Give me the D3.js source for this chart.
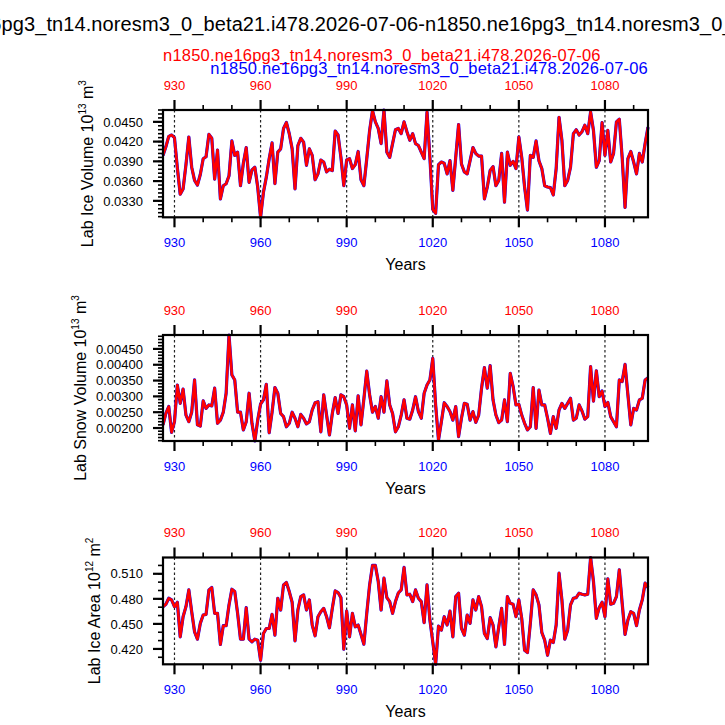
<!DOCTYPE html>
<meta charset="utf-8">
<script src="https://cdn.jsdelivr.net/npm/d3@7"></script>
<style>
  body { margin: 0; background: #fff; }
  text { font-family: "Liberation Sans", Arial, Helvetica, sans-serif; }
</style>
<body>
<script>

var width = 725
var height = 725

// annual means, model years 926..1095
var years = d3.range(926, 1096)

var iceVolume = [
  0.0399, 0.0412, 0.0428, 0.0430, 0.0426, 0.0380, 0.0340, 0.0348, 0.0385, 0.0427,
  0.0381, 0.0361, 0.0354, 0.0370, 0.0394, 0.0397, 0.0431, 0.0425, 0.0363, 0.0407,
  0.0333, 0.0353, 0.0356, 0.0368, 0.0421, 0.0399, 0.0404, 0.0353, 0.0387, 0.0411,
  0.0358, 0.0377, 0.0381, 0.0351, 0.0305, 0.0343, 0.0366, 0.0394, 0.0418, 0.0356,
  0.0404, 0.0409, 0.0440, 0.0449, 0.0432, 0.0409, 0.0348, 0.0414, 0.0425, 0.0419,
  0.0384, 0.0409, 0.0399, 0.0362, 0.0371, 0.0392, 0.0389, 0.0374, 0.0378, 0.0376,
  0.0436, 0.0430, 0.0396, 0.0353, 0.0392, 0.0394, 0.0379, 0.0385, 0.0405, 0.0362,
  0.0353, 0.0394, 0.0437, 0.0467, 0.0450, 0.0440, 0.0417, 0.0468, 0.0404, 0.0396,
  0.0417, 0.0438, 0.0440, 0.0432, 0.0450, 0.0435, 0.0422, 0.0432, 0.0417, 0.0414,
  0.0404, 0.0394, 0.0465, 0.0396, 0.0317, 0.0311, 0.0385, 0.0389, 0.0387, 0.0371,
  0.0391, 0.0346, 0.0396, 0.0446, 0.0386, 0.0374, 0.0371, 0.0391, 0.0411, 0.0402,
  0.0398, 0.0398, 0.0333, 0.0351, 0.0376, 0.0382, 0.0353, 0.0361, 0.0402, 0.0328,
  0.0404, 0.0384, 0.0390, 0.0379, 0.0427, 0.0396, 0.0351, 0.0316, 0.0399, 0.0396,
  0.0421, 0.0391, 0.0379, 0.0353, 0.0351, 0.0350, 0.0339, 0.0379, 0.0457, 0.0422,
  0.0353, 0.0361, 0.0381, 0.0432, 0.0438, 0.0430, 0.0435, 0.0445, 0.0432, 0.0465,
  0.0437, 0.0381, 0.0391, 0.0449, 0.0399, 0.0437, 0.0389, 0.0402, 0.0450, 0.0454,
  0.0396, 0.0320, 0.0394, 0.0405, 0.0389, 0.0371, 0.0402, 0.0389, 0.0417, 0.0442
]

var snowVolume = [
  0.00210, 0.00246, 0.00268, 0.00186, 0.00220, 0.00336, 0.00278, 0.00323, 0.00241, 0.00220,
  0.00250, 0.00352, 0.00210, 0.00206, 0.00286, 0.00262, 0.00273, 0.00270, 0.00326, 0.00215,
  0.00225, 0.00250, 0.00310, 0.00494, 0.00368, 0.00352, 0.00250, 0.00250, 0.00194, 0.00220,
  0.00310, 0.00215, 0.00159, 0.00225, 0.00276, 0.00289, 0.00338, 0.00185, 0.00250, 0.00328,
  0.00310, 0.00246, 0.00236, 0.00204, 0.00215, 0.00250, 0.00231, 0.00204, 0.00243, 0.00231,
  0.00213, 0.00220, 0.00257, 0.00280, 0.00283, 0.00188, 0.00305, 0.00241, 0.00178, 0.00246,
  0.00296, 0.00246, 0.00305, 0.00299, 0.00273, 0.00199, 0.00273, 0.00191, 0.00302, 0.00210,
  0.00292, 0.00380, 0.00305, 0.00250, 0.00268, 0.00231, 0.00299, 0.00250, 0.00349, 0.00273,
  0.00246, 0.00188, 0.00204, 0.00241, 0.00289, 0.00231, 0.00228, 0.00257, 0.00299, 0.00252,
  0.00231, 0.00310, 0.00336, 0.00352, 0.00420, 0.00273, 0.00162, 0.00220, 0.00280, 0.00268,
  0.00252, 0.00225, 0.00268, 0.00173, 0.00231, 0.00278, 0.00275, 0.00225, 0.00252, 0.00218,
  0.00241, 0.00326, 0.00391, 0.00326, 0.00397, 0.00289, 0.00241, 0.00217, 0.00225, 0.00289,
  0.00220, 0.00373, 0.00331, 0.00273, 0.00275, 0.00241, 0.00215, 0.00194, 0.00204, 0.00328,
  0.00199, 0.00320, 0.00273, 0.00273, 0.00231, 0.00183, 0.00236, 0.00199, 0.00257, 0.00278,
  0.00262, 0.00278, 0.00294, 0.00225, 0.00231, 0.00273, 0.00254, 0.00228, 0.00236, 0.00394,
  0.00285, 0.00381, 0.00299, 0.00317, 0.00268, 0.00281, 0.00236, 0.00220, 0.00204, 0.00352,
  0.00347, 0.00401, 0.00305, 0.00210, 0.00262, 0.00257, 0.00289, 0.00294, 0.00352, 0.00359
]

var iceArea = [
  0.4706, 0.4735, 0.4807, 0.4787, 0.4706, 0.4759, 0.4345, 0.4586, 0.4706, 0.4907,
  0.4646, 0.4405, 0.4317, 0.4506, 0.4606, 0.4614, 0.4907, 0.4935, 0.4626, 0.4626,
  0.4253, 0.4478, 0.4478, 0.4727, 0.4915, 0.4887, 0.4626, 0.4317, 0.4317, 0.4694,
  0.4317, 0.4285, 0.4317, 0.4305, 0.4064, 0.4385, 0.4445, 0.4445, 0.4614, 0.4365,
  0.4807, 0.4666, 0.4967, 0.4996, 0.4887, 0.4759, 0.4297, 0.4666, 0.4827, 0.4847,
  0.4666, 0.4787, 0.4486, 0.4357, 0.4586, 0.4646, 0.4686, 0.4586, 0.4453, 0.4686,
  0.4895, 0.4875, 0.4815, 0.4196, 0.4654, 0.4345, 0.4626, 0.4465, 0.4486, 0.4373,
  0.4257, 0.4626, 0.4967, 0.5200, 0.5200, 0.5008, 0.4666, 0.5048, 0.4815, 0.4767,
  0.4626, 0.4767, 0.4870, 0.4907, 0.5176, 0.4847, 0.4855, 0.4767, 0.4907, 0.4807,
  0.4767, 0.4514, 0.4967, 0.4546, 0.4285, 0.4016, 0.4473, 0.4425, 0.4586, 0.4486,
  0.4654, 0.4345, 0.4827, 0.4867, 0.4445, 0.4365, 0.4606, 0.4506, 0.4787, 0.4666,
  0.4827, 0.4706, 0.4385, 0.4325, 0.4574, 0.4486, 0.4225, 0.4465, 0.4686, 0.4253,
  0.4827, 0.4747, 0.4735, 0.4586, 0.4787, 0.4566, 0.4184, 0.4156, 0.4506, 0.4907,
  0.4847, 0.4727, 0.4397, 0.4305, 0.4124, 0.4305, 0.4277, 0.4486, 0.5108, 0.4787,
  0.4317, 0.4425, 0.4727, 0.4807, 0.4815, 0.4867, 0.4855, 0.4847, 0.4855, 0.5295,
  0.5008, 0.4566, 0.4694, 0.4759, 0.4586, 0.5040, 0.4735, 0.4747, 0.4827, 0.5148,
  0.4747, 0.4373, 0.4546, 0.4646, 0.4626, 0.4478, 0.4666, 0.4787, 0.4988, 0.4935
]

// both cases give the same numbers, the red one is drawn over the blue one
var caseName = "n1850.ne16pg3_tn14.noresm3_0_beta21.i478.2026-07-06"
var title = caseName + "-" + caseName

var xMajor = [930, 960, 990, 1020, 1050, 1080]
var xMinor = d3.range(930, 1096, 10)

var volTicks = [0.0330, 0.0360, 0.0390, 0.0420, 0.0450]
var volLabels = ["0.0330", "0.0360", "0.0390", "0.0420", "0.0450"]
var snowTicks = [0.0020, 0.0025, 0.0030, 0.0035, 0.0040, 0.0045]
var snowLabels = ["0.00200", "0.00250", "0.00300", "0.00350", "0.00400", "0.00450"]
var areaTicks = [0.420, 0.450, 0.480, 0.510]
var areaLabels = ["0.420", "0.450", "0.480", "0.510"]

var left = 163, right = 648

var svg = d3.select("body").append("svg")
            .attr("width", width)
            .attr("height", height)

var x = d3.scaleLinear().domain(d3.extent(years)).range([left, right])

// title, clipped by the page on both sides like the original
var ttl = svg.append("text")
             .attr("y", 31)
             .style("font-size", "20px")
             .style("letter-spacing", "0.1px")
             .text(title)
var pre = ttl.node().getSubStringLength(0, 10)
ttl.attr("x", 1.5 - pre)

svg.append("text")
   .attr("x", left).attr("y", 60.5)
   .style("font-size", "16.5px").style("letter-spacing", "0.2px").style("fill", "red")
   .text(caseName)
svg.append("text")
   .attr("x", right).attr("y", 73.5)
   .style("font-size", "16.5px").style("letter-spacing", "0.2px").style("fill", "blue")
   .style("text-anchor", "end")
   .text(caseName)

function panel(top, bottom, values, ticks, labels, minorStep, name, pow, unitPow) {
  var y = d3.scaleLinear().domain(d3.extent(values)).range([bottom, top])
  var g = svg.append("g")

  // dashed verticals at the major years
  g.selectAll(".grid").data(xMajor).enter().append("line")
   .attr("x1", d => x(d)).attr("x2", d => x(d))
   .attr("y1", top).attr("y2", bottom)
   .style("stroke", "#222").style("stroke-width", 1.2)
   .style("stroke-dasharray", "2.5,2.5")

  var line = d3.line().x((d, i) => x(years[i])).y(d => y(d))
  g.append("path").datum(values).attr("d", line)
   .style("fill", "none").style("stroke", "blue").style("stroke-width", 3.2)
   .style("stroke-linejoin", "round")
  g.append("path").datum(values).attr("d", line)
   .style("fill", "none").style("stroke", "red").style("stroke-width", 2.6)
   .style("stroke-linejoin", "round")

  // x ticks, outward, top and bottom
  xMinor.forEach(function(d) {
    var big = xMajor.indexOf(d) >= 0
    var len = big ? 10 : 5
    g.append("line").attr("x1", x(d)).attr("x2", x(d))
     .attr("y1", top).attr("y2", top - len)
     .style("stroke", "#000").style("stroke-width", big ? 2.2 : 1.6)
    g.append("line").attr("x1", x(d)).attr("x2", x(d))
     .attr("y1", bottom).attr("y2", bottom + len)
     .style("stroke", "#000").style("stroke-width", big ? 2.2 : 1.6)
  })
  xMajor.forEach(function(d) {
    g.append("text").attr("x", x(d)).attr("y", top - 20.5)
     .style("font-size", "13px").style("fill", "red").style("text-anchor", "middle")
     .text(d)
    g.append("text").attr("x", x(d)).attr("y", bottom + 30)
     .style("font-size", "13px").style("fill", "blue").style("text-anchor", "middle")
     .text(d)
  })

  // y ticks
  var dom = y.domain()
  var minors = d3.range(Math.ceil(dom[0] / minorStep - 1e-6), Math.floor(dom[1] / minorStep + 1e-6) + 1)
                 .map(k => k * minorStep)
  minors.forEach(function(v) {
    g.append("line").attr("x1", left).attr("x2", left - 5)
     .attr("y1", y(v)).attr("y2", y(v))
     .style("stroke", "#000").style("stroke-width", 1.6)
  })
  var lab = g.append("g")
  ticks.forEach(function(v, i) {
    g.append("line").attr("x1", left).attr("x2", left - 10)
     .attr("y1", y(v)).attr("y2", y(v))
     .style("stroke", "#000").style("stroke-width", 2.2)
    lab.append("text").attr("x", left - 20).attr("y", y(v)).attr("dy", "0.36em")
       .style("font-size", "13px").style("text-anchor", "end")
       .text(labels[i])
  })

  g.append("rect").attr("x", left).attr("y", top)
   .attr("width", right - left).attr("height", bottom - top)
   .style("fill", "none").style("stroke", "#000").style("stroke-width", 2.2)

  g.append("text").attr("x", (left + right) / 2).attr("y", bottom + 53)
   .style("font-size", "16px").style("text-anchor", "middle")
   .text("Years")

  var lx = lab.node().getBBox().x - 10
  var yt = g.append("text")
            .attr("transform", "translate(" + lx + "," + ((top + bottom) / 2) + ") rotate(-90)")
            .style("font-size", "16px").style("text-anchor", "middle")
  yt.append("tspan").text(name + " 10")
  yt.append("tspan").attr("dy", -7).style("font-size", "10px").text(pow)
  yt.append("tspan").attr("dy", 7).text(" m")
  yt.append("tspan").attr("dy", -7).style("font-size", "10px").text(unitPow)
}

panel(110, 217.3, iceVolume, volTicks, volLabels, 0.0006, "Lab Ice Volume", "13", "3")
panel(335, 441, snowVolume, snowTicks, snowLabels, 0.0001, "Lab Snow Volume", "13", "3")
panel(557.5, 664.3, iceArea, areaTicks, areaLabels, 0.01, "Lab Ice Area", "12", "2")

</script>
</body>
